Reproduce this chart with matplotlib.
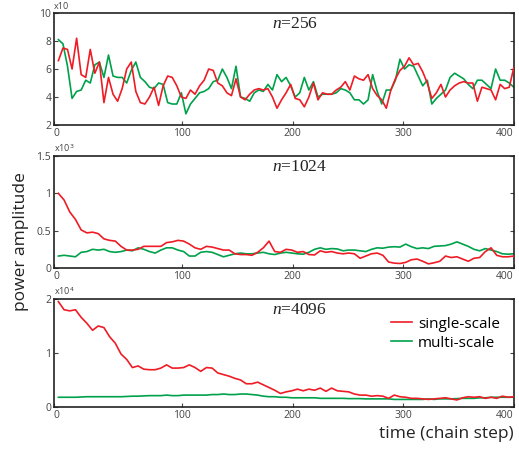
import numpy as np
import matplotlib
matplotlib.use("Agg")
import matplotlib.pyplot as plt

plt.rcParams["font.family"] = ["Open Sans", "DejaVu Sans"]
plt.rcParams["mathtext.fontset"] = "custom"
plt.rcParams["mathtext.it"] = "Liberation Serif:italic"
plt.rcParams["mathtext.rm"] = "Liberation Serif"

# -------------------------------------------------
# Data (power amplitude per chain step)
# -------------------------------------------------
# n = 256, units of 10
red_256 = [6.6, 7.5, 7.4, 6.0, 8.2, 5.6, 5.4, 7.4, 5.7, 6.5, 3.6, 5.4, 4.2, 3.7, 4.6,
           6.0, 6.5, 4.4, 3.6, 3.5, 4.0, 4.7, 3.4, 4.8, 5.5, 5.4, 4.8, 4.0, 3.9, 4.5,
           4.2, 4.8, 5.2, 6.0, 5.9, 5.0, 4.8, 4.3, 4.1, 5.3, 4.0, 3.8, 4.2, 4.5, 4.6,
           4.5, 4.6, 4.0, 3.2, 3.8, 4.3, 4.9, 3.9, 3.8, 3.3, 4.0, 5.0, 3.8, 4.3, 4.2,
           4.2, 4.5, 4.7, 5.1, 4.5, 5.5, 5.3, 5.2, 5.6, 4.6, 4.1, 3.8, 3.2, 4.5, 5.3,
           5.9, 6.2, 6.8, 6.3, 6.4, 5.8, 5.0, 3.9, 4.3, 4.9, 4.0, 4.5, 4.8, 5.0, 5.1,
           5.0, 5.0, 3.7, 4.7, 4.6, 4.5, 3.8, 4.9, 4.6, 4.7, 6.1]
green_256 = [8.1, 7.8, 6.2, 3.9, 4.4, 4.5, 5.2, 5.0, 6.3, 6.5, 5.4, 7.0, 5.5, 5.4, 5.4,
             5.0, 5.9, 6.5, 5.4, 5.1, 4.7, 4.6, 5.0, 4.9, 3.6, 3.5, 3.5, 4.3, 2.8, 3.5,
             3.9, 4.3, 4.4, 4.6, 5.1, 5.2, 6.0, 5.4, 4.6, 6.2, 4.0, 3.9, 3.7, 4.3, 4.5,
             4.4, 4.9, 4.5, 5.6, 5.1, 5.4, 4.8, 4.0, 4.3, 5.4, 4.5, 5.1, 4.0, 4.2, 4.2,
             4.2, 4.3, 4.6, 4.5, 4.3, 3.8, 3.8, 3.5, 3.8, 5.6, 4.4, 3.5, 4.5, 4.5, 5.2,
             6.7, 6.0, 6.3, 6.2, 5.5, 4.8, 5.2, 3.5, 3.9, 4.2, 4.5, 5.4, 5.7, 5.5, 5.3,
             4.9, 4.6, 5.2, 5.2, 4.9, 4.6, 6.0, 5.2, 5.2, 5.0, 4.7]

# n = 1024, units of 10^3
red_1024 = [1.00, 0.91, 0.75, 0.65, 0.51, 0.47, 0.48, 0.46, 0.39, 0.37, 0.36, 0.29, 0.24,
            0.24, 0.25, 0.29, 0.29, 0.29, 0.29, 0.34, 0.35, 0.37, 0.36, 0.32, 0.27, 0.25,
            0.29, 0.28, 0.26, 0.24, 0.24, 0.19, 0.18, 0.18, 0.17, 0.21, 0.27, 0.36, 0.22,
            0.21, 0.25, 0.24, 0.21, 0.22, 0.18, 0.175, 0.23, 0.21, 0.22, 0.20, 0.19, 0.20,
            0.19, 0.13, 0.16, 0.19, 0.20, 0.17, 0.08, 0.065, 0.06, 0.075, 0.11, 0.12, 0.09,
            0.055, 0.07, 0.09, 0.16, 0.14, 0.15, 0.12, 0.09, 0.13, 0.14, 0.22, 0.27, 0.17,
            0.15, 0.15, 0.16]
green_1024 = [0.16, 0.17, 0.16, 0.15, 0.21, 0.22, 0.25, 0.24, 0.25, 0.22, 0.21, 0.22, 0.24,
              0.23, 0.27, 0.25, 0.22, 0.20, 0.24, 0.27, 0.27, 0.24, 0.22, 0.16, 0.16, 0.21,
              0.22, 0.21, 0.18, 0.15, 0.17, 0.19, 0.20, 0.19, 0.19, 0.20, 0.21, 0.19, 0.18,
              0.20, 0.21, 0.20, 0.19, 0.185, 0.21, 0.25, 0.27, 0.25, 0.26, 0.255, 0.23, 0.24,
              0.24, 0.23, 0.22, 0.25, 0.27, 0.265, 0.28, 0.285, 0.28, 0.32, 0.285, 0.26, 0.27,
              0.26, 0.29, 0.295, 0.30, 0.32, 0.35, 0.32, 0.29, 0.25, 0.23, 0.26, 0.24, 0.22,
              0.19, 0.185, 0.19]

# n = 4096, units of 10^4
red_4096 = [1.95, 1.80, 1.78, 1.80, 1.66, 1.55, 1.42, 1.50, 1.47, 1.30, 1.18, 0.98, 0.88,
            0.73, 0.76, 0.70, 0.69, 0.69, 0.72, 0.78, 0.72, 0.72, 0.73, 0.78, 0.73, 0.66,
            0.73, 0.72, 0.63, 0.60, 0.57, 0.53, 0.50, 0.43, 0.43, 0.46, 0.41, 0.36, 0.31,
            0.25, 0.28, 0.30, 0.33, 0.30, 0.33, 0.31, 0.35, 0.29, 0.35, 0.30, 0.29, 0.28,
            0.24, 0.22, 0.22, 0.20, 0.21, 0.20, 0.16, 0.22, 0.19, 0.18, 0.16, 0.16, 0.15,
            0.14, 0.15, 0.16, 0.17, 0.15, 0.13, 0.17, 0.19, 0.18, 0.19, 0.16, 0.18, 0.16,
            0.20, 0.18, 0.19]
green_4096 = [0.18, 0.18, 0.18, 0.18, 0.185, 0.19, 0.19, 0.19, 0.19, 0.19, 0.19, 0.19, 0.195,
              0.20, 0.20, 0.205, 0.21, 0.21, 0.21, 0.22, 0.21, 0.21, 0.22, 0.22, 0.22,
              0.22, 0.22, 0.23, 0.23, 0.24, 0.23, 0.23, 0.24, 0.24, 0.23, 0.22, 0.20,
              0.19, 0.19, 0.18, 0.18, 0.17, 0.17, 0.17, 0.17, 0.17, 0.16, 0.16, 0.16,
              0.16, 0.16, 0.155, 0.155, 0.155, 0.15, 0.15, 0.15, 0.15, 0.15, 0.14, 0.14,
              0.14, 0.14, 0.14, 0.14, 0.15, 0.14, 0.15, 0.15, 0.15, 0.155, 0.16, 0.16,
              0.16, 0.17, 0.17, 0.18, 0.18, 0.18, 0.18, 0.18]

panels = [
    ("256", red_256, green_256, (2, 10), [2, 4, 6, 8, 10], ["2", "4", "6", "8", "10"], "x10"),
    ("1024", red_1024, green_1024, (0, 1.5), [0, 0.5, 1, 1.5], ["0", "0.5", "1", "1.5"], r"x10$^{\mathsf{3}}$"),
    ("4096", red_4096, green_4096, (0, 2), [0, 1, 2], ["0", "1", "2"], r"x10$^{\mathsf{4}}$"),
]

x_ticks = [-16, 100, 200, 300, 400]
x_labels = ["0", "100", "200", "300", "400"]

RED = "#ee1c25"
GREEN = "#00a14b"
TICK_COL = "#444444"

# axes boxes in figure fraction [left, bottom, width, height]
boxes = [
    [0.104, 0.7228, 0.886, 0.2483],
    [0.104, 0.4058, 0.886, 0.2483],
    [0.104, 0.0976, 0.886, 0.2395],
]

fig = plt.figure(figsize=(5.19, 4.51), dpi=100)

for box, (n, red, green, ylim, yt, ytl, scale) in zip(boxes, panels):
    ax = fig.add_axes(box)
    x_red = np.linspace(-12, 400, len(red))
    x_green = np.linspace(-12, 400, len(green))
    ax.plot(x_red, red, color=RED, lw=1.2, label="single-scale", zorder=3)
    ax.plot(x_green, green, color=GREEN, lw=1.2, label="multi-scale", zorder=2)

    ax.set_xlim(-16, 400)
    ax.set_ylim(*ylim)
    ax.set_yticks(yt)
    ax.set_yticklabels(ytl)
    ax.set_xticks(x_ticks)
    ax.set_xticklabels(x_labels)
    ax.tick_params(direction="in", length=3, width=0.8, labelsize=7.5,
                   colors=TICK_COL, labelcolor=TICK_COL, pad=2,
                   right=True, top=False)
    ax.get_xticklabels()[-1].set_horizontalalignment("right")
    ax.get_xticklabels()[0].set_horizontalalignment("left")
    for sp in ax.spines.values():
        sp.set_linewidth(1.2)
        sp.set_color("#222222")

    ax.text(0.0, 1.015, scale, transform=ax.transAxes, fontsize=6.5,
            color=TICK_COL, ha="left", va="bottom")
    ax.text(0.475, 0.90, r"$n$=" + n, transform=ax.transAxes,
            fontsize=12.5, family="Liberation Serif", ha="left", va="center",
            color="#222222")

    if n == "4096":
        ax.legend(loc="upper right", bbox_to_anchor=(0.99, 0.92), frameon=False,
                  fontsize=11, handlelength=1.4, handletextpad=0.4,
                  labelspacing=0.25, borderaxespad=0.2)

fig.text(0.04, 0.465, "power amplitude", rotation=90, fontsize=12.5,
         ha="center", va="center", color="#222222")
fig.text(0.99, 0.037, "time (chain step)", fontsize=12.5, ha="right",
         va="center", color="#222222")

fig.savefig("out.png", dpi=100)
